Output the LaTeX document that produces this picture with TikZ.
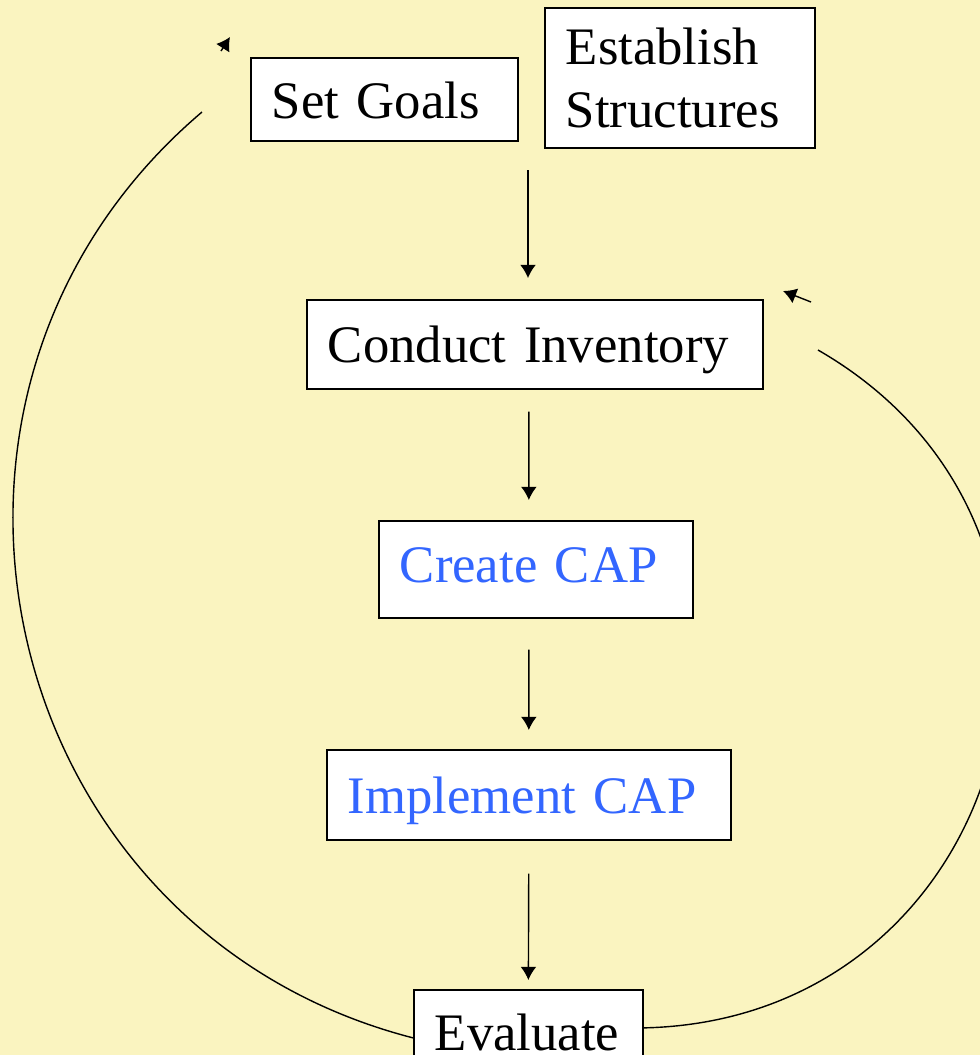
\documentclass[tikz,border=0pt]{standalone}
\usepackage{fontspec}
\setmainfont{Liberation Serif}
\usetikzlibrary{arrows.meta}
\definecolor{paper}{RGB}{250,244,192}
\definecolor{capblue}{RGB}{51,102,255}

\begin{document}
\begin{tikzpicture}[x = 0.02cm, y = -0.02cm, line width = 0.8pt,
                        >={Latex[length = 7.5pt, width = 9pt]},
                        box/.style = {draw, fill = white, line width = 1pt, anchor = north west,
                                      align = left, inner xsep = 0.42cm, inner ysep = 0pt,
                                      text height = 21pt, text depth = 0pt,
                                      font = \fontsize{30}{36}\selectfont}]
    \useasboundingbox (0, 0) rectangle (980, 1055);
    \clip (0, 0) rectangle (980, 1055);
    \fill [paper] (0, 0) rectangle (980, 1055);
    \node [box, text width = 4.50cm, minimum height = 1.66cm, text height = 22pt] (goals) at (250, 57){Set Goals};
    \node [box, text width = 4.56cm, minimum height = 2.80cm, text height = {}, text depth = {}] (struct) at (544, 7){Establish\\Structures};
    \node [box, text width = 8.28cm, minimum height = 1.78cm] (inv) at (306, 299){Conduct Inventory};
    \node [box, text width = 5.44cm, minimum height = 1.94cm, text height = 15pt, text = capblue] (create) at (378, 520){Create CAP};
    \node [box, text width = 7.24cm, minimum height = 1.80cm, text = capblue] (impl) at (326, 749){Implement CAP};
    \node [box, text width = 3.74cm, minimum height = 1.80cm, text height = 18pt] (evaluate) at (413, 989){Evaluate};
    \coordinate (split) at (528, 170);
    \coordinate (goalsend) at (202, 112);
    \coordinate (invend) at (818, 350);
    \coordinate (goalstail) at (221, 51);
    \coordinate (goalstip) at (230, 37);
    \coordinate (invtail) at (811, 302);
    \coordinate (invtip) at (783, 291);
    \draw [->, shorten >= 0.42cm] (split) -- (split |- inv.north);
    \draw [->, shorten <= 0.44cm, shorten >= 0.40cm] ([xshift = -0.12cm]inv.south) -- ([xshift = -0.14cm]create.north);
    \draw [->, shorten <= 0.62cm, shorten >= 0.38cm] ([xshift = -0.14cm]create.south) -- (impl.north);
    \draw [->, shorten <= 0.66cm, shorten >= 0.18cm] (impl.south) -- (evaluate.north);
    % the two return loops
    \draw ([yshift = -0.06cm]evaluate.west) .. controls (-6, 930) and (-128, 392) .. (goalsend);
    \draw ([yshift = 0.14cm]evaluate.east) .. controls (1014, 1020) and (1141, 536) .. (invend);
    \draw [->] (goalstail) -- (goalstip);
    \draw [->] (invtail) -- (invtip);
  \end{tikzpicture}
\end{document}
